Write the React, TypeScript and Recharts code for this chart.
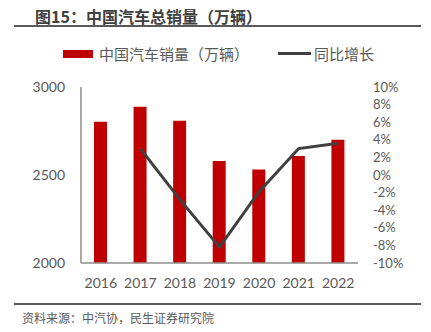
import { ComposedChart, Bar, Line, XAxis, YAxis } from 'recharts';

const years = ['2016', '2017', '2018', '2019', '2020', '2021', '2022'];
const sales = [2803, 2888, 2808, 2580, 2531, 2608, 2700];
const growth: (number | null)[] = [null, 3.0, -2.8, -8.2, -1.9, 3.0, 3.6];
const salesTicks = [2000, 2500, 3000];
const growthTicks = [-10, -8, -6, -4, -2, 0, 2, 4, 6, 8, 10];

const data = years.map((year, i) => ({ year, sales: sales[i], growth: growth[i] }));

const cjk = '"Noto Sans CJK SC", sans-serif';
const num = 'Lato, "Noto Sans CJK SC", sans-serif';
const textColor = '#595959';

export default function App() {
  return (
    <div style={{ position: 'relative', width: 431, height: 332, margin: -8, background: '#fff' }}>
      <div
        style={{
          position: 'absolute', left: 35, top: 5, fontFamily: cjk, fontWeight: 'bold',
          fontSize: 16, color: '#404040', lineHeight: '22px', whiteSpace: 'nowrap',
        }}
      >
        图15：中国汽车总销量（万辆）
      </div>
      <div style={{ position: 'absolute', left: 14, top: 25, width: 407, height: 1.5, background: '#595959' }} />

      <div style={{ position: 'absolute', left: 63, top: 50, width: 30, height: 8, background: '#C00000' }} />
      <div
        style={{
          position: 'absolute', left: 99, top: 43, fontFamily: cjk, fontSize: 15,
          color: textColor, lineHeight: '22px', whiteSpace: 'nowrap',
        }}
      >
        中国汽车销量（万辆）
      </div>
      <div style={{ position: 'absolute', left: 278, top: 52, width: 33, height: 3, background: '#404040' }} />
      <div
        style={{
          position: 'absolute', left: 314, top: 43, fontFamily: cjk, fontSize: 15,
          color: textColor, lineHeight: '22px', whiteSpace: 'nowrap',
        }}
      >
        同比增长
      </div>

      <div style={{ position: 'absolute', left: 0, top: 0 }}>
        <ComposedChart
          width={431}
          height={332}
          data={data}
          margin={{ top: 87, right: 0, left: 0, bottom: 39 }}
        >
          <XAxis
            dataKey="year"
            height={30}
            axisLine={{ stroke: '#8c8c8c', strokeWidth: 1.5 }}
            tickLine={false}
            tickSize={0}
            tickMargin={15}
            tick={{ fill: textColor, fontSize: 14, fontFamily: num }}
            interval={0}
          />
          <YAxis
            yAxisId="left"
            width={81}
            domain={[2000, 3000]}
            ticks={salesTicks}
            allowDataOverflow
            axisLine={{ stroke: '#8c8c8c', strokeWidth: 1.5 }}
            tickLine={false}
            tickSize={0}
            tickMargin={16}
            tick={{ fill: textColor, fontSize: 14, fontFamily: num }}
          />
          <YAxis
            yAxisId="right"
            orientation="right"
            width={73}
            domain={[-10, 10]}
            ticks={growthTicks}
            interval={0}
            axisLine={false}
            tickLine={false}
            tickSize={0}
            tickMargin={15}
            tickFormatter={(v: number) => `${v}%`}
            tick={{ fill: textColor, fontSize: 13, fontFamily: num, textAnchor: 'start' }}
          />
          <Bar yAxisId="left" dataKey="sales" fill="#C00000" barSize={13} isAnimationActive={false} />
          <Line
            yAxisId="right"
            dataKey="growth"
            stroke="#404040"
            strokeWidth={3}
            dot={false}
            connectNulls={false}
            isAnimationActive={false}
          />
        </ComposedChart>
      </div>

      <div style={{ position: 'absolute', left: 14, top: 303, width: 407, height: 1.5, background: '#595959' }} />
      <div
        style={{
          position: 'absolute', left: 22, top: 310, fontFamily: cjk, fontSize: 12,
          color: textColor, lineHeight: '16px', whiteSpace: 'nowrap',
        }}
      >
        资料来源：中汽协，民生证券研究院
      </div>
    </div>
  );
}
